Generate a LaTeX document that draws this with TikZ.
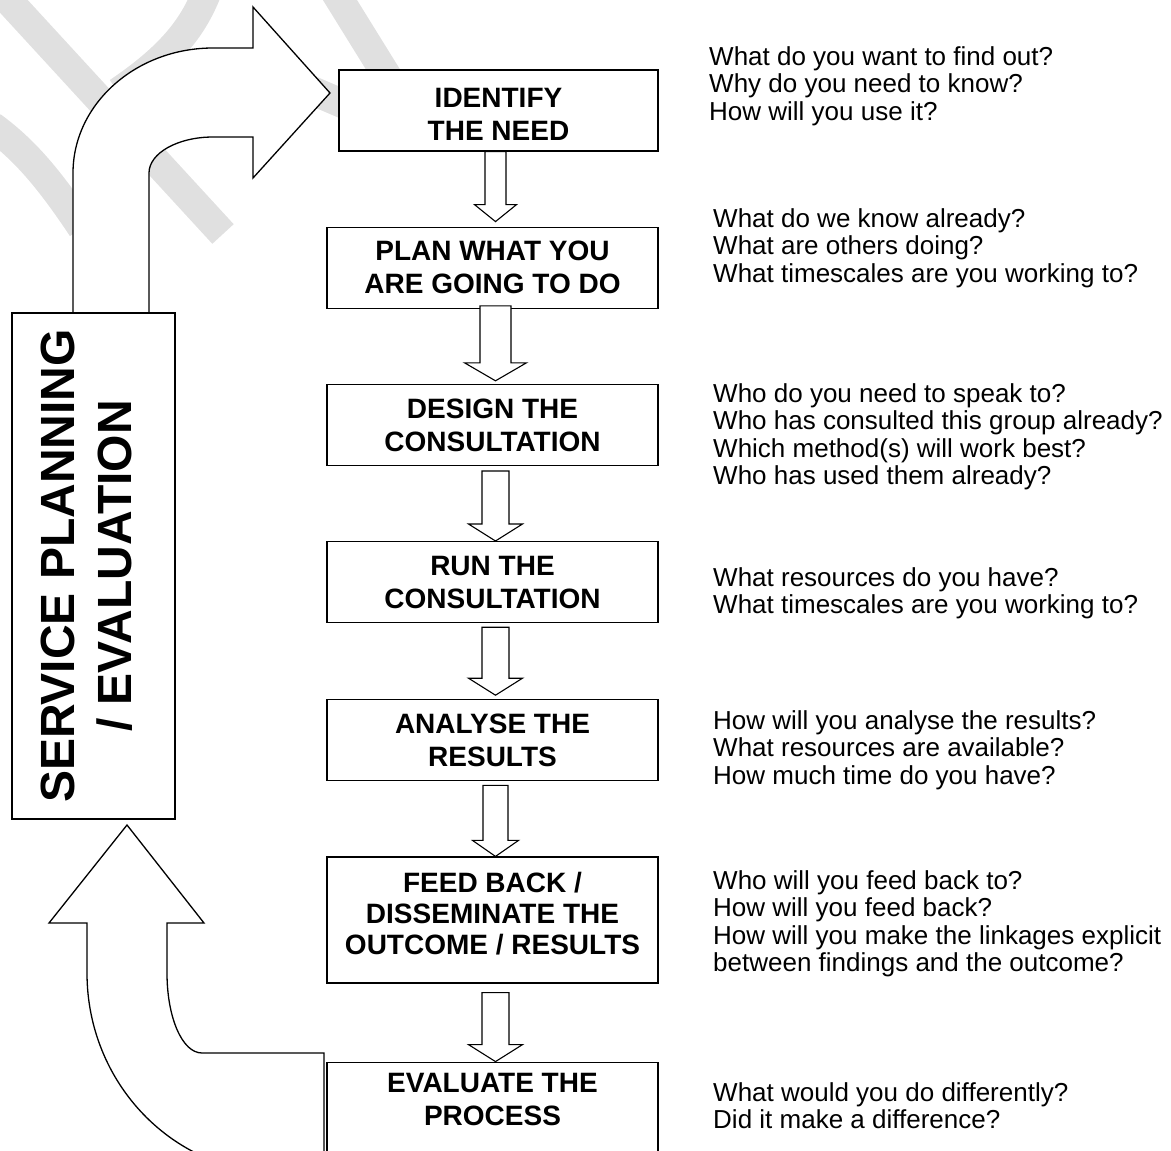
\documentclass[tikz,border=0pt]{standalone}
\usepackage{fontspec}
\setmainfont{Liberation Sans}
\usetikzlibrary{positioning, calc}

% block arrow between two steps: from, to, top gap, tip gap, half shaft, half head, head length
\newcommand{\flowarrow}[7]{%
  \draw[blockarr]
    ($(#1.south -| axis)+(-#5,#3)$) -- ($(#2.north -| axis)+(-#5,-#4-#7)$)
    -- ($(#2.north -| axis)+(-#6,-#4-#7)$) -- ($(#2.north -| axis)+(0,-#4)$)
    -- ($(#2.north -| axis)+(#6,-#4-#7)$) -- ($(#2.north -| axis)+(#5,-#4-#7)$)
    -- ($(#1.south -| axis)+(#5,#3)$) -- cycle;}

\begin{document}
\begin{tikzpicture}[x=1pt, y=-1pt,
  stepbox/.style={draw, fill=white, line width=1.2pt, align=center,
                  font=\bfseries\fontsize{28}{33}\selectfont, inner sep=0pt,
                  minimum width=331pt, minimum height=81pt},
  questions/.style={anchor=north west, align=left, inner sep=0pt,
                    font=\fontsize{26}{27.6}\selectfont},
  blockarr/.style={draw, fill=white, line width=1.1pt, line join=miter},
  bigarr/.style={draw, fill=white, line width=1.3pt},
  watermark/.style={draw=black!12, line width=29pt}
]
  \useasboundingbox (0,0) rectangle (1171,1151);

  % faint watermark behind everything
  \draw[watermark] (-3,-12) -- (223,234);
  \draw[watermark] (-8,126) .. controls (25,150) and (50,180) .. (82,228);
  \draw[watermark] (207,-8) .. controls (192,30) and (168,58) .. (118,92);
  \draw[watermark] (335,-8) -- (392,84);
  \draw[watermark] (292,82) -- (362,112);

  % turning arrows round the side box
  \draw[bigarr] (73,313) -- (73,173) .. controls (73,104) and (136,48) .. (213,48)
    -- (253,48) -- (253,7) -- (330,93) -- (253,178) -- (253,137) -- (213,137)
    .. controls (178,137) and (149,153) .. (149,173) -- (149,313) -- cycle;
  \draw[bigarr] (127,825) -- (204,923) -- (167,923) -- (167,973)
    .. controls (167,1017) and (182,1053) .. (202,1053) -- (324,1053)
    -- (324,1180) -- (280,1180) -- (280,1173)
    .. controls (173,1173) and (87,1083) .. (87,973) -- (87,923) -- (49,923) -- cycle;

  \node[draw, fill=white, line width=1.2pt, rotate=90, inner sep=0pt,
        minimum width=506pt, minimum height=163pt, align=center,
        font=\bfseries\fontsize{48}{57}\selectfont] (service) at (93.5,566)
        {SERVICE PLANNING\\/ EVALUATION\rule[-14pt]{0pt}{0pt}};

  % the steps
  \node[stepbox, minimum width=319pt] (identify) at (498.5,110.5)
        {\rule{0pt}{27pt}IDENTIFY\\THE NEED};
  \node[stepbox, below=75pt of identify.south east, anchor=north east] (plan)
        {PLAN WHAT YOU\\ARE GOING TO DO};
  \node[stepbox, below=75pt of plan] (design) {DESIGN THE\\CONSULTATION};
  \node[stepbox, below=75pt of design] (run) {RUN THE\\CONSULTATION};
  \node[stepbox, below=76pt of run] (analyse) {ANALYSE THE\\RESULTS};
  \node[stepbox, below=75pt of analyse, minimum height=126pt,
        font=\bfseries\fontsize{28}{31}\selectfont] (feed)
        {FEED BACK /\\DISSEMINATE THE\\OUTCOME / RESULTS\rule[-14pt]{0pt}{0pt}};
  \node[stepbox, below=78pt of feed, minimum height=100pt] (evaluate)
        {EVALUATE THE\\PROCESS\rule[-26pt]{0pt}{0pt}};

  \coordinate (axis) at (495.5,0);
  \flowarrow{identify}{plan}{0}{5}{10.5}{21}{17}
  \flowarrow{plan}{design}{-3}{3}{15.5}{31}{18}
  \flowarrow{design}{run}{5}{0}{13.5}{27}{17}
  \flowarrow{run}{analyse}{4}{4}{13.5}{27}{17}
  \flowarrow{analyse}{feed}{4}{0}{12.5}{23}{16}
  \flowarrow{feed}{evaluate}{9}{0}{13.5}{27}{17}

  % questions beside each step
  \node[questions] (q1) at (709,46) {What do you want to find out?\\
    Why do you need to know?\\How will you use it?};
  \node[questions] (q2) at (713,208) {What do we know already?\\
    What are others doing?\\What timescales are you working to?};
  \node[questions] (q3) at (713,383) {Who do you need to speak to?\\
    Who has consulted this group already?\\Which method(s) will work best?\\
    Who has used them already?};
  \node[questions] (q4) at (713,567) {What resources do you have?\\
    What timescales are you working to?};
  \node[questions] (q5) at (713,710) {How will you analyse the results?\\
    What resources are available?\\How much time do you have?};
  \node[questions] (q6) at (713,870) {Who will you feed back to?\\
    How will you feed back?\\How will you make the linkages explicit\\
    between findings and the outcome?};
  \node[questions] (q7) at (713,1082) {What would you do differently?\\
    Did it make a difference?};
\end{tikzpicture}
\end{document}
